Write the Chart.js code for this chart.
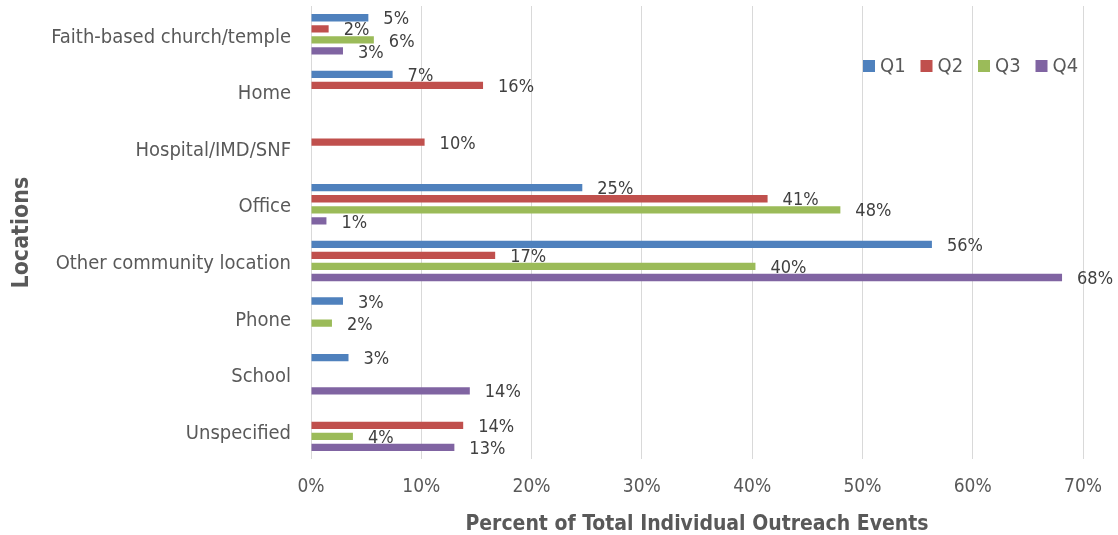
<!DOCTYPE html>
<html lang="en">
<head>
    <meta charset="UTF-8">
    <title>Outreach Events by Location</title>
    <script src="https://cdn.jsdelivr.net/npm/chart.js"></script>
    <style>
        body {
            margin: 0;
            padding: 0;
            background-color: #ffffff;
        }

        #chart-wrap {
            width: 1118px;
            height: 535px;
        }
    </style>
</head>
<body>
    <div id="chart-wrap">
        <canvas id="locationChart"></canvas>
    </div>

    <script>
        // Locations and quarterly shares (percent of total individual outreach events)
        const locations = [
            'Faith-based church/temple',
            'Home',
            'Hospital/IMD/SNF',
            'Office',
            'Other community location',
            'Phone',
            'School',
            'Unspecified'
        ];
        const quarters = ['Q1', 'Q2', 'Q3', 'Q4'];
        const q1 = [5.2, 7.4, null, 24.6, 56.3, 2.9, 3.4, null];
        const q2 = [1.6, 15.6, 10.3, 41.4, 16.7, null, null, 13.8];
        const q3 = [5.7, null, null, 48.0, 40.3, 1.9, null, 3.8];
        const q4 = [2.9, null, null, 1.4, 68.1, null, 14.4, 13.0];
        const xTicks = [0, 10, 20, 30, 40, 50, 60, 70];

        const colors = ['#4f81bd', '#c0504d', '#9bbb59', '#8064a2'];
        const fontFamily = '"DejaVu Sans Condensed", "DejaVu Sans", sans-serif';
        const textColor = '#595959';

        // Value labels to the right of each bar
        const barLabels = {
            id: 'barLabels',
            afterDatasetsDraw(chart) {
                const ctx = chart.ctx;
                ctx.save();
                ctx.font = '18px ' + fontFamily;
                ctx.fillStyle = '#404040';
                ctx.textAlign = 'left';
                ctx.textBaseline = 'middle';
                chart.data.datasets.forEach((ds, i) => {
                    chart.getDatasetMeta(i).data.forEach((bar, j) => {
                        const v = ds.data[j];
                        if (v == null) return;
                        ctx.fillText(Math.round(v) + '%', bar.x + 15, bar.y + 2);
                    });
                });
                ctx.restore();
            }
        };

        // Legend drawn inside the plot, top right
        const innerLegend = {
            id: 'innerLegend',
            afterDraw(chart) {
                const ctx = chart.ctx;
                const area = chart.chartArea;
                const y = area.top + 60;
                let x = area.right - 220;
                ctx.save();
                ctx.font = '20px ' + fontFamily;
                ctx.textBaseline = 'middle';
                ctx.textAlign = 'left';
                chart.data.datasets.forEach((ds) => {
                    ctx.fillStyle = ds.backgroundColor;
                    ctx.fillRect(x, y - 6, 12, 12);
                    ctx.fillStyle = textColor;
                    ctx.fillText(ds.label, x + 17, y + 1);
                    x += 57.5;
                });
                ctx.restore();
            }
        };

        const seriesValues = [q1, q2, q3, q4];
        const ctx = document.getElementById('locationChart').getContext('2d');
        const locationChart = new Chart(ctx, {
            type: 'bar',
            data: {
                labels: locations,
                datasets: quarters.map((q, i) => ({
                    label: q,
                    data: seriesValues[i],
                    backgroundColor: colors[i],
                    borderWidth: 0,
                    categoryPercentage: 0.78,
                    barPercentage: 0.66
                }))
            },
            options: {
                indexAxis: 'y',
                responsive: true,
                maintainAspectRatio: false,
                animation: false,
                layout: {
                    padding: { top: 2, right: 23, bottom: 0, left: 8 }
                },
                plugins: {
                    legend: { display: false },
                    tooltip: { enabled: false }
                },
                scales: {
                    x: {
                        min: 0,
                        max: 70,
                        afterBuildTicks: (axis) => {
                            axis.ticks = xTicks.map(v => ({ value: v }));
                        },
                        grid: {
                            color: '#d9d9d9',
                            lineWidth: 1,
                            drawTicks: false
                        },
                        border: { display: false },
                        ticks: {
                            padding: 16,
                            color: textColor,
                            font: { family: fontFamily, size: 19 },
                            callback: (v) => v + '%'
                        },
                        title: {
                            display: true,
                            text: 'Percent of Total Individual Outreach Events',
                            color: textColor,
                            font: { family: fontFamily, size: 21, weight: 'bold', lineHeight: 1.0 },
                            padding: { top: 0, bottom: 0 }
                        }
                    },
                    y: {
                        afterFit: (scale) => {
                            scale.width = 303;
                        },
                        grid: { display: false, drawTicks: true, tickLength: 20 },
                        border: { display: false },
                        ticks: {
                            padding: 0,
                            labelOffset: 3,
                            color: textColor,
                            font: { family: fontFamily, size: 20, lineHeight: 0.6 }
                        },
                        title: {
                            display: true,
                            text: 'Locations',
                            color: textColor,
                            font: { family: fontFamily, size: 23, weight: 'bold' },
                            padding: { top: 0, bottom: 0 }
                        }
                    }
                }
            },
            plugins: [barLabels, innerLegend]
        });
    </script>
</body>
</html>
